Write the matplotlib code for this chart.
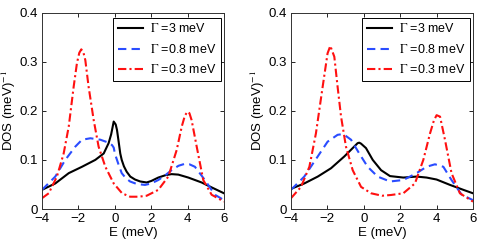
import numpy as np
import matplotlib.pyplot as plt

plt.rcParams['font.family'] = ['Liberation Sans', 'DejaVu Sans']
plt.rcParams['mathtext.fontset'] = 'stix'

# Left panel: energy (meV) and DOS for the three broadenings
e_l3 = [-4, -3.27, -2.53, -1.8, -1.07, -0.61, -0.34, -0.2, -0.06, 0.05, 0.12, 0.2, 0.3, 0.38,
        0.5, 0.65, 0.85, 1.11, 1.4, 1.75, 2.0, 2.39, 2.8, 3.12, 3.49, 4.04, 4.77, 5.32, 6]
dos_l3 = [0.039, 0.052, 0.073, 0.086, 0.100, 0.113, 0.134, 0.152, 0.178, 0.172, 0.161, 0.140,
          0.113, 0.100, 0.087, 0.076, 0.066, 0.060, 0.056, 0.054, 0.057, 0.064, 0.069, 0.071,
          0.070, 0.064, 0.054, 0.044, 0.032]

e_l08 = [-4, -3.27, -2.72, -2.17, -1.8, -1.34, -0.79, -0.34, -0.15, -0.06, 0.01, 0.21, 0.38,
         0.6, 0.84, 1.2, 1.66, 2.0, 2.39, 2.75, 3.12, 3.5, 3.85, 4.1, 4.4, 4.95, 5.5, 6]
dos_l08 = [0.039, 0.066, 0.100, 0.127, 0.141, 0.144, 0.141, 0.135, 0.130, 0.125, 0.112, 0.090,
           0.073, 0.063, 0.056, 0.051, 0.049, 0.052, 0.059, 0.068, 0.079, 0.088, 0.092, 0.091,
           0.086, 0.059, 0.029, 0.018]

e_l03 = [-4, -3.63, -3.18, -2.81, -2.53, -2.26, -2.08, -1.95, -1.84, -1.72, -1.62, -1.44, -1.16,
         -0.89, -0.52, -0.06, 0.4, 0.84, 1.3, 1.75, 2.39, 2.94, 3.4, 3.68, 3.85, 3.99, 4.1, 4.22,
         4.5, 4.86, 5.32, 6]
dos_l03 = [0.022, 0.032, 0.066, 0.113, 0.168, 0.249, 0.297, 0.318, 0.325, 0.318, 0.303, 0.249,
           0.181, 0.127, 0.086, 0.052, 0.032, 0.025, 0.025, 0.027, 0.039, 0.066, 0.120, 0.168,
           0.190, 0.198, 0.195, 0.181, 0.127, 0.059, 0.029, 0.015]

# Right panel
e_r3 = [-4, -3.27, -2.53, -1.8, -1.07, -0.61, -0.34, -0.25, -0.15, 0.12, 0.49, 0.95, 1.44, 2.17,
        2.9, 3.45, 4.0, 4.74, 5.47, 6]
dos_r3 = [0.041, 0.052, 0.066, 0.083, 0.107, 0.124, 0.134, 0.135, 0.133, 0.124, 0.100, 0.079,
          0.067, 0.064, 0.066, 0.064, 0.060, 0.049, 0.039, 0.032]

e_r08 = [-4, -3.27, -2.53, -1.99, -1.44, -1.25, -1.07, -0.70, -0.25, 0.21, 0.76, 1.44, 2.17,
         2.9, 3.45, 3.91, 4.37, 4.82, 5.38, 6]
dos_r08 = [0.039, 0.066, 0.107, 0.137, 0.151, 0.152, 0.151, 0.141, 0.113, 0.086, 0.066, 0.056,
           0.059, 0.073, 0.086, 0.091, 0.086, 0.059, 0.029, 0.018]

e_r03 = [-4, -3.45, -2.99, -2.63, -2.26, -1.99, -1.84, -1.62, -1.44, -1.25, -0.98, -0.61, -0.15,
         0.4, 1.0, 1.49, 2.17, 2.81, 3.27, 3.64, 3.85, 4.0, 4.19, 4.46, 4.82, 5.28, 6]
dos_r03 = [0.022, 0.045, 0.086, 0.154, 0.249, 0.317, 0.332, 0.310, 0.249, 0.188, 0.127, 0.079,
           0.045, 0.032, 0.027, 0.0285, 0.032, 0.052, 0.100, 0.154, 0.180, 0.191, 0.188, 0.141,
           0.073, 0.032, 0.015]

labels = [r'$\mathrm{\Gamma}$ =3 meV', r'$\mathrm{\Gamma}$ =0.8 meV', r'$\mathrm{\Gamma}$ =0.3 meV']
xticks = [-4, -2, 0, 2, 4, 6]
xticklabels = ['\u22124', '\u22122', '0', '2', '4', '6']
yticks = [0, 0.1, 0.2, 0.3, 0.4]
yticklabels = ['0', '0.1', '0.2', '0.3', '0.4']

fig = plt.figure(figsize=(4.8, 2.45), dpi=100)
ax1 = fig.add_axes([42/480, 36/245, 182/480, 196.5/245])
ax2 = fig.add_axes([291/480, 36/245, 182/480, 196.5/245])

panels = [
    (ax1, (e_l3, dos_l3), (e_l08, dos_l08), (e_l03, dos_l03)),
    (ax2, (e_r3, dos_r3), (e_r08, dos_r08), (e_r03, dos_r03)),
]

for ax, c3, c08, c03 in panels:
    ax.plot(*c3, color='k', lw=1.5, label=labels[0])
    ax.plot(*c08, color='#2a4cff', lw=1.5, ls=(0, (4, 2.5)), label=labels[1])
    ax.plot(*c03, color='#ff1010', lw=1.5, ls=(0, (4, 1.5, 1, 1.5)), label=labels[2])
    ax.set_xlim(-4, 6)
    ax.set_ylim(0, 0.4)
    ax.set_xticks(xticks)
    ax.set_yticks(yticks)
    ax.set_xticklabels(xticklabels)
    ax.set_yticklabels(yticklabels)
    ax.tick_params(direction='in', top=True, right=True, length=3, width=0.6,
                   labelsize=9.5, pad=3)
    for s in ax.spines.values():
        s.set_linewidth(0.7)
        s.set_color('#333333')
    ax.set_xlabel('E (meV)', fontsize=9.5, labelpad=1)
    ax.set_ylabel(r'DOS (meV)$^{-1}$', fontsize=9.5, labelpad=1)
    leg = ax.legend(loc='upper right', bbox_to_anchor=(1 - 3/182, 1 - 5.5/196.5),
                    borderaxespad=0, fontsize=9, frameon=True, fancybox=False,
                    edgecolor='k', framealpha=1, handlelength=2.0, handletextpad=0.6,
                    labelspacing=0.6, borderpad=0.35)
    leg.get_frame().set_linewidth(0.7)

fig.savefig('out.png', dpi=100)
